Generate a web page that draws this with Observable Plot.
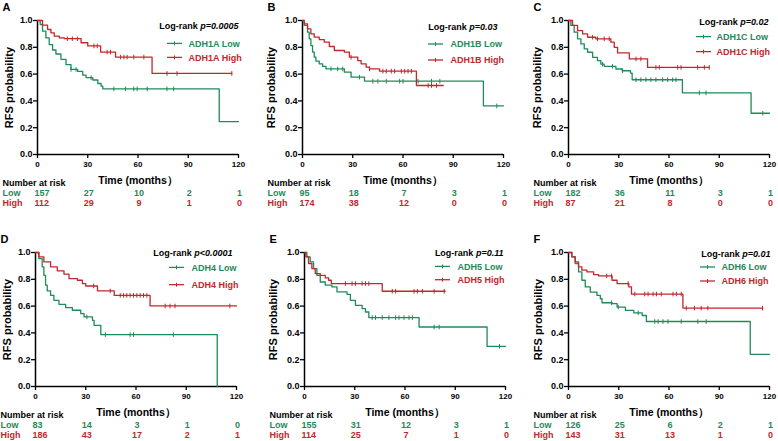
<!DOCTYPE html>
<html><head><meta charset="utf-8">
<script src="https://cdn.jsdelivr.net/npm/d3@7"></script>
<script src="https://cdn.jsdelivr.net/npm/@observablehq/plot@0.6"></script>
<style>
html,body{margin:0;padding:0;background:#fff;}
#chart{position:relative;width:778px;height:441px;overflow:hidden;background:#fff;}
.panel{position:absolute;}
</style></head><body><div id="chart"></div>
<script>
// ---- data ----
const xTicks = [0, 30, 60, 90, 120];
const yTicks = [0, 0.2, 0.4, 0.6, 0.8, 1.0];
const riskTimes = [0, 30, 60, 90, 120];
const letters = ["A", "B", "C", "D", "E", "F"];
const genes = ["ADH1A", "ADH1B", "ADH1C", "ADH4", "ADH5", "ADH6"];
const pTexts = ["p=0.0005", "p=0.03", "p=0.02", "p<0.0001", "p=0.11", "p=0.01"];
const lowRisk = [[157,27,10,2,1],[95,18,7,3,1],[182,36,11,3,1],[83,14,3,1,0],[155,31,12,3,1],[126,25,6,2,1]];
const highRisk = [[112,29,9,1,0],[174,38,12,0,0],[87,21,8,0,0],[186,43,17,2,1],[114,25,7,1,0],[143,31,13,1,0]];

const aLow = [[0,1],[1.6,.97],[3,.92],[5,.87],[7,.82],[9,.78],[11,.75],[14,.71],[17,.67],[20,.635],[24,.62],[27,.593],[29,.573],[33,.556],[36,.53],[38,.51],[39,.49],[108.5,.246],[120,.246]];
const aHigh = [[0,1],[3,.965],[6,.933],[8,.908],[10,.883],[13,.871],[16,.864],[26,.834],[30,.81],[37.7,.764],[46.6,.727],[68.4,.605],[116,.605]];
const aLowC = [20,23,32,45.6,52.5,57.5,59.5,65.5,77.3,81.3];
const aHighC = [17.8,20.8,23.8,33.7,35.7,41.6,43.6,49.6,51.6,53.5,57.5,63.5,77.3,83.3,116];

const bLow = [[0,1],[1,.963],[3,.913],[4,.863],[5,.813],[6,.764],[7,.726],[8,.697],[10,.677],[12,.657],[14,.639],[25,.614],[29,.577],[37,.547],[108,.363],[120,.363]];
const bHigh = [[0,1],[1,.975],[3,.938],[5,.9],[7,.876],[10,.858],[13,.838],[16,.806],[19,.776],[25,.764],[28,.726],[33,.701],[35,.677],[38,.652],[40,.639],[46,.622],[68,.515],[84,.515]];
const bLowC = [17,21,24,34,42,45,50,58,60,69,77,82,116];
const bHighC = [29,40,48,50,53,55,59,61,63,65,75,77,80];

const cLow = [[0,1],[1.4,.963],[3.4,.913],[5.4,.863],[7.4,.825],[9.4,.788],[11.4,.763],[14.4,.725],[17.3,.7],[19.3,.675],[21.3,.658],[28.3,.638],[32,.625],[37,.608],[38,.558],[68,.46],[109,.308],[120,.308]];
const cHigh = [[0,1],[2.4,.963],[5.4,.925],[8.4,.9],[11.4,.875],[16.3,.863],[25.3,.838],[27.3,.8],[29.3,.758],[36.3,.713],[47.2,.65],[84,.65]];
const cLowC = [20.3,26.3,32.3,40.3,43.2,46.2,49.2,52.2,56.2,59.2,62.2,64.2,78.1,82.1,116];
const cHighC = [14.4,17.3,21.3,24.3,40.3,43.2,52.2,54.2,65.2,67.2,77.1,81.1,84];

const dLow = [[0,1],[2,.955],[4,.893],[5,.83],[6,.756],[7,.713],[9,.68],[11,.643],[14,.613],[18,.589],[22,.569],[27,.544],[29,.519],[34,.494],[35,.456],[39,.387],[108.5,0]];
const dHigh = [[0,1],[2,.968],[5,.93],[9,.893],[13,.863],[17,.838],[20,.805],[25,.793],[28,.768],[30,.75],[37,.713],[47,.68],[68.4,.601],[120,.601]];
const dLowC = [30.7,41.7,56.5,58.5,82.3];
const dHighC = [34.7,44.6,50.6,52.6,54.5,56.5,58.5,60.5,62.5,64.5,66.5,77.4,80.3,83.3,116];

const eLow = [[0,1],[1.4,.968],[3.4,.93],[5.4,.88],[7.4,.83],[9.4,.78],[12.4,.756],[16.4,.743],[19.4,.706],[25.4,.688],[27.4,.643],[30.4,.606],[34.4,.581],[36.4,.556],[38.4,.514],[68.4,.444],[109,.3],[120,.3]];
const eHigh = [[0,1],[0.8,.968],[2.4,.918],[4.4,.88],[6.4,.843],[9.4,.83],[12.4,.81],[14.4,.793],[16,.768],[46.4,.711],[84,.711]];
const eLowC = [40.4,42.4,46.4,50.4,54.4,56.4,59.4,62.4,64.4,77.4,80.4,116.4];
const eHighC = [24.4,28.4,30.4,34.4,36.4,38.4,52.4,54.4,65.4,67.4,70.4,77.4,83.4];

const fLow = [[0,1],[2,.968],[4,.918],[6,.855],[8,.793],[10,.743],[13,.705],[17,.68],[19,.655],[20,.625],[26,.618],[29,.593],[34,.568],[39,.55],[44,.53],[46.5,.485],[108.5,.24],[120,.24]];
const fHigh = [[0,1],[2,.968],[4,.93],[6,.893],[8,.868],[11,.855],[15,.835],[18,.825],[26,.793],[29,.768],[36,.743],[37.6,.69],[68.3,.585],[116,.585]];
const fLowC = [25.7,29.7,41.6,51.5,53.5,56.4,59.4,67.3,77.2,82.2];
const fHighC = [22.8,25.7,35.6,39.6,45.5,47.5,50.5,52.5,55.4,62.4,64.4,67.3,70.3,75.2,79.2,83.2,115.8];

const lowSeries = [aLow, bLow, cLow, dLow, eLow, fLow];
const highSeries = [aHigh, bHigh, cHigh, dHigh, eHigh, fHigh];
const lowCens = [aLowC, bLowC, cLowC, dLowC, eLowC, fLowC];
const highCens = [aHighC, bHighC, cHighC, dHighC, eHighC, fHighC];

// ---- layout / style ----
const GREEN = "#1f8a5a", RED = "#c0282d";
const FONT = "'Liberation Sans', Arial, Helvetica, sans-serif";
const PW = 201, PH = 134, MT = 20, H = 215;
const layout = [
  {left:0,   top:0,   width:265, ml:37, yl:-28, pDx:0,  pDy:6,   sw:[-71,-56], tx:-50, lowDy:23.4, highDy:37.4},
  {left:265, top:0,   width:265, ml:37, yl:-31, pDx:-6, pDy:7,   sw:[-75,-60], tx:-53, lowDy:24,   highDy:40},
  {left:530, top:0,   width:248, ml:38, yl:-31, pDx:-1, pDy:1.5, sw:[-73,-58], tx:-53, lowDy:16.6, highDy:31.6},
  {left:0,   top:232, width:265, ml:35, yl:-28, pDx:-4, pDy:1,   sw:[-67,-52], tx:-45, lowDy:15.4, highDy:32.7},
  {left:265, top:232, width:265, ml:39, yl:-31, pDx:-2, pDy:1,   sw:[-70,-55], tx:-48, lowDy:14.4, highDy:27.7},
  {left:530, top:232, width:248, ml:38, yl:-30, pDx:1,  pDy:1.6, sw:[-69,-54], tx:-48, lowDy:15,   highDy:29}
];

function stepAt(series, t) {
  let s = series[0][1];
  for (const [ti, si] of series) { if (ti <= t) s = si; else break; }
  return s;
}
const tickSymbol = { draw(ctx) { ctx.moveTo(0, -2.3); ctx.lineTo(0, 2.3); } };
const T = {lineAnchor: "middle", fontWeight: "bold"};

const chart = document.getElementById("chart");

for (let i = 0; i < 6; i++) {
  const L = layout[i];
  const low = lowSeries[i], high = highSeries[i];
  const lowC = lowCens[i].map(t => ({t, s: stepAt(low, t)}));
  const highC = highCens[i].map(t => ({t, s: stepAt(high, t)}));
  const riskLow = lowRisk[i].map((v, j) => ({t: riskTimes[j], v, first: j === 0}));
  const riskHigh = highRisk[i].map((v, j) => ({t: riskTimes[j], v, first: j === 0}));
  const mr = L.width - L.ml - PW;
  const fig = Plot.plot({
    width: L.width, height: H,
    marginLeft: L.ml, marginRight: mr, marginTop: MT, marginBottom: H - MT - PH,
    x: {domain: [0, 120]},
    y: {domain: [0, 1]},
    style: {fontFamily: FONT, fontWeight: "bold", background: "transparent", overflow: "visible", color: "#000"},
    marks: [
      Plot.axisX(xTicks, {tickSize: 4, tickPadding: 3, fontSize: 8, fontWeight: "bold", label: null, strokeWidth: 1.3}),
      Plot.axisY(yTicks, {tickSize: 4, tickPadding: 1, fontSize: 9, fontWeight: "bold", label: null, strokeWidth: 1.3, tickFormat: d3.format(".1f")}),
      Plot.ruleX([0], {strokeWidth: 1.5}),
      Plot.ruleY([0], {strokeWidth: 1.5}),
      Plot.line(low, {x: d => d[0], y: d => d[1], curve: "step-after", stroke: GREEN, strokeWidth: 1.3}),
      Plot.line(high, {x: d => d[0], y: d => d[1], curve: "step-after", stroke: RED, strokeWidth: 1.3}),
      Plot.dot(lowC, {x: "t", y: "s", symbol: tickSymbol, stroke: GREEN, fill: "none", strokeWidth: 1}),
      Plot.dot(highC, {x: "t", y: "s", symbol: tickSymbol, stroke: RED, fill: "none", strokeWidth: 1}),
      Plot.text([letters[i]], {...T, frameAnchor: "top-left", dx: -35, dy: -13, textAnchor: "start", fontSize: 11}),
      Plot.text(["RFS probability"], {...T, frameAnchor: "left", rotate: -90, dx: L.yl, textAnchor: "middle", fontSize: 11}),
      Plot.text(["Time (months）"], {...T, frameAnchor: "bottom", dy: 26, textAnchor: "middle", fontSize: 10.5}),
      Plot.text(["Log-rank " + pTexts[i]], {...T, frameAnchor: "top-right", dx: L.pDx, dy: L.pDy, textAnchor: "end", fontSize: 9}),
      Plot.text([genes[i] + " Low"], {...T, frameAnchor: "top-right", dx: L.tx, dy: L.lowDy, textAnchor: "start", fontSize: 9, fill: GREEN}),
      Plot.text([genes[i] + " High"], {...T, frameAnchor: "top-right", dx: L.tx, dy: L.highDy, textAnchor: "start", fontSize: 9, fill: RED}),
      Plot.text(["Number at risk"], {...T, frameAnchor: "bottom-left", dx: -35, dy: 29, textAnchor: "start", fontSize: 9}),
      Plot.text(["Low"], {...T, frameAnchor: "bottom-left", dx: -35, dy: 39, textAnchor: "start", fontSize: 9, fill: GREEN}),
      Plot.text(["High"], {...T, frameAnchor: "bottom-left", dx: -35, dy: 49, textAnchor: "start", fontSize: 9, fill: RED}),
      Plot.text(riskLow.filter(d => d.first), {...T, x: "t", text: "v", frameAnchor: "bottom", dy: 39, dx: -3, textAnchor: "start", fontSize: 9, fill: GREEN}),
      Plot.text(riskLow.filter(d => !d.first), {...T, x: "t", text: "v", frameAnchor: "bottom", dy: 39, dx: 1, textAnchor: "middle", fontSize: 9, fill: GREEN}),
      Plot.text(riskHigh.filter(d => d.first), {...T, x: "t", text: "v", frameAnchor: "bottom", dy: 49, dx: -3, textAnchor: "start", fontSize: 9, fill: RED}),
      Plot.text(riskHigh.filter(d => !d.first), {...T, x: "t", text: "v", frameAnchor: "bottom", dy: 49, dx: 1, textAnchor: "middle", fontSize: 9, fill: RED})
    ]
  });
  // italic p in log-rank label
  d3.select(fig).selectAll("text").each(function () {
    const s = this.textContent;
    if (s.startsWith("Log-rank ")) {
      const p = s.slice(9);
      this.textContent = "";
      d3.select(this).append("tspan").text("Log-rank ");
      d3.select(this).append("tspan").attr("font-style", "italic").text(p);
    }
  });
  // legend swatches
  const xr = L.ml + PW;
  const g = d3.select(fig).append("g");
  [[L.lowDy, GREEN], [L.highDy, RED]].forEach(([dy, c]) => {
    const y = MT + dy;
    g.append("line").attr("x1", xr + L.sw[0]).attr("x2", xr + L.sw[1]).attr("y1", y).attr("y2", y).attr("stroke", c).attr("stroke-width", 1.3);
    const xm = xr + (L.sw[0] + L.sw[1]) / 2;
    g.append("line").attr("x1", xm).attr("x2", xm).attr("y1", y - 2).attr("y2", y + 2).attr("stroke", c).attr("stroke-width", 1);
  });
  const div = document.createElement("div");
  div.className = "panel";
  div.style.left = L.left + "px";
  div.style.top = L.top + "px";
  div.appendChild(fig);
  chart.appendChild(div);
}
</script>
</body></html>
